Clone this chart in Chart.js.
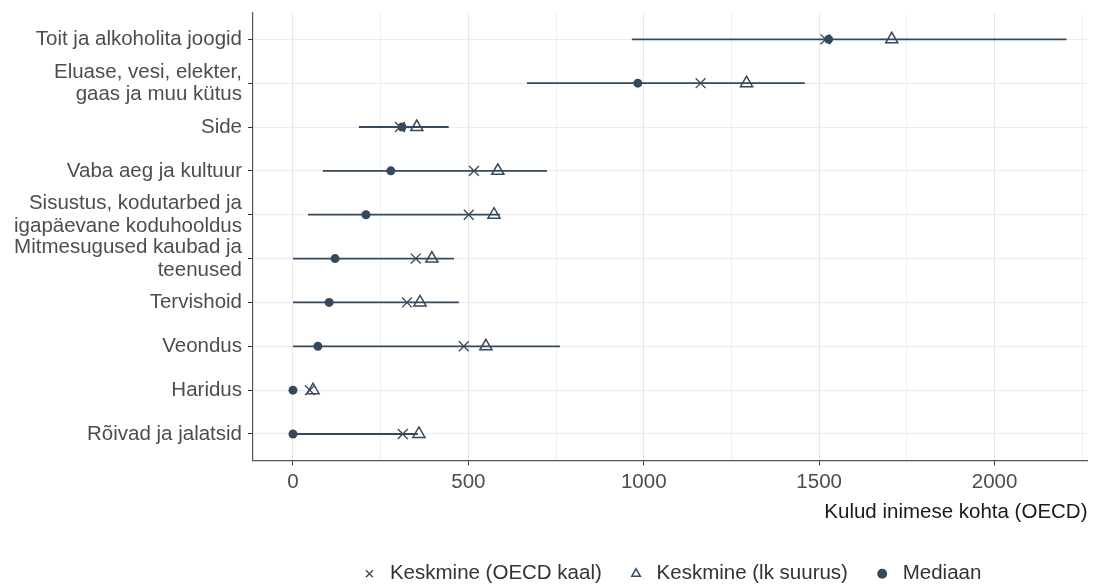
<!DOCTYPE html>
<html>
<head>
<meta charset="utf-8">
<script src="https://cdn.jsdelivr.net/npm/chart.js@4"></script>
<style>
  html, body { margin: 0; padding: 0; background: #fff; }
  #wrap { width: 1096px; height: 587px; }
</style>
</head>
<body>
<div id="wrap"><canvas id="chart"></canvas></div>
<script>
// categories, top to bottom
const categories = [
  "Toit ja alkoholita joogid",
  ["Eluase, vesi, elekter,", "gaas ja muu kütus"],
  "Side",
  "Vaba aeg ja kultuur",
  ["Sisustus, kodutarbed ja", "igapäevane koduhooldus"],
  ["Mitmesugused kaubad ja", "teenused"],
  "Tervishoid",
  "Veondus",
  "Haridus",
  "Rõivad ja jalatsid",
];

const rangeLow  = [966, 667, 188, 85, 43, 0, 0, 0, 0, 0];
const rangeHigh = [2205, 1459, 444, 724, 590, 459, 473, 761, 0, 356];
const meanOecd  = [1518, 1162, 305, 516, 501, 350, 325, 487, 48, 313];
const meanSize  = [1707, 1293, 353, 584, 573, 396, 362, 550, 57, 359];
const median    = [1527, 983, 311, 279, 208, 120, 103, 71, 0, 0];

const xTicks = [0, 500, 1000, 1500, 2000];

const ink = "#34495e";
const font = { family: "'Liberation Sans', Arial, sans-serif", size: 20.5 };

// range lines: pairs of points split by gaps
const rangePts = [];
rangeLow.forEach((lo, i) => {
  rangePts.push({ x: lo, y: i }, { x: rangeHigh[i], y: i }, { x: null, y: null });
});

const pts = arr => arr.map((v, i) => ({ x: v, y: i }));

new Chart(document.getElementById("chart"), {
  type: "scatter",
  data: {
    datasets: [
      {
        label: "range",
        data: rangePts,
        showLine: true,
        spanGaps: false,
        borderColor: ink,
        borderWidth: 1.8,
        pointRadius: 0,
        order: 3,
      },
      {
        label: "Keskmine (OECD kaal)",
        data: pts(meanOecd),
        pointStyle: "crossRot",
        pointRadius: 7,
        borderColor: ink,
        backgroundColor: ink,
        borderWidth: 1.3,
        order: 1,
      },
      {
        label: "Keskmine (lk suurus)",
        data: pts(meanSize),
        pointStyle: "triangle",
        pointRadius: 7,
        borderColor: ink,
        backgroundColor: "rgba(255,255,255,0)",
        borderWidth: 1.5,
        order: 0,
      },
      {
        label: "Mediaan",
        data: pts(median),
        pointStyle: "circle",
        pointRadius: 4.5,
        borderColor: ink,
        backgroundColor: ink,
        borderWidth: 0,
        order: 2,
      },
    ],
  },
  options: {
    responsive: true,
    maintainAspectRatio: false,
    animation: false,
    layout: { padding: { top: 13, right: 0, left: 0, bottom: -7 } },
    scales: {
      x: {
        type: "linear",
        min: -114,
        max: 2265,
        afterBuildTicks: s => {
          const t = [];
          for (let v = 0; v <= 2250; v += 250) t.push({ value: v });
          s.ticks = t;
        },
        afterFit: s => {
          s.paddingLeft = 0;
          s.paddingRight = 0;
        },
        ticks: {
          color: "#4d4d4d",
          font: font,
          padding: 5,
          callback: v => (xTicks.includes(v) ? v : ""),
        },
        grid: {
          color: c => (c.tick && xTicks.includes(c.tick.value) ? "#e6e6e6" : "#f0f0f0"),
          lineWidth: 1,
          tickLength: 5,
          tickColor: c => (c.tick && xTicks.includes(c.tick.value) ? "#333" : "rgba(0,0,0,0)"),
        },
        border: { color: "#555", width: 1.2 },
        title: {
          display: true,
          text: "Kulud inimese kohta (OECD)",
          align: "end",
          color: "#1a1a1a",
          font: font,
          padding: { top: 0, bottom: 15 },
        },
      },
      y: {
        type: "linear",
        reverse: true,
        min: -0.6,
        max: 9.6,
        afterBuildTicks: s => {
          s.ticks = categories.map((c, i) => ({ value: i }));
        },
        afterFit: s => {
          s.width = 253;
          s.paddingTop = 0;
          s.paddingBottom = 0;
        },
        ticks: {
          color: "#4d4d4d",
          font: { ...font, lineHeight: 1.1 },
          padding: 6,
          callback: v => categories[v],
        },
        grid: {
          color: "#ebebeb",
          lineWidth: 1,
          tickLength: 5,
          tickColor: "#333",
        },
        border: { color: "#555", width: 1.2 },
      },
    },
    plugins: {
      legend: {
        position: "bottom",
        fullSize: false,
        labels: {
          filter: item => item.text !== "range",
          sort: (a, b) => a.datasetIndex - b.datasetIndex,
          usePointStyle: true,
          boxHeight: 7,
          color: "#333",
          font: font,
          padding: 24,
        },
      },
      tooltip: { enabled: false },
    },
  },
});
</script>
</body>
</html>
